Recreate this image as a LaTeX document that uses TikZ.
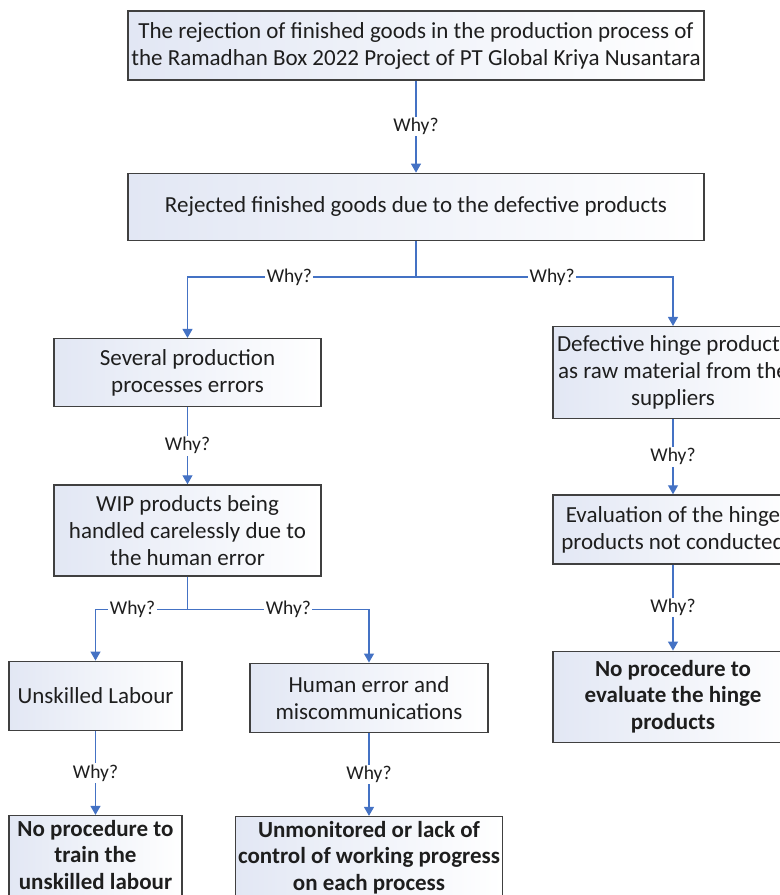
\documentclass[tikz,border=0pt]{standalone}
\usepackage{fontspec}
\setmainfont{Carlito}
\usetikzlibrary{positioning,arrows.meta}

\definecolor{whyblue}{RGB}{68,114,196}
\definecolor{boxline}{RGB}{64,64,64}
\definecolor{boxtint}{RGB}{226,231,244}
\definecolor{inkgray}{RGB}{30,30,30}

\newcommand{\lowpad}{\rule[-14bp]{0pt}{0pt}}

\tikzset{
  cause/.style={draw=boxline, line width=1.3bp, left color=boxtint, right color=white,
    align=center, inner sep=2bp, text=inkgray, font=\fontsize{23bp}{27bp}\selectfont},
  rootcause/.style={cause, font=\bfseries\fontsize{23bp}{26.5bp}\selectfont},
  why/.style={fill=white, inner sep=1.5bp, text=inkgray, font=\fontsize{19.5bp}{21bp}\selectfont},
  whylink/.style={draw=whyblue, line width=1.2bp, -{Triangle[width=10bp,length=9bp]}},
}

\begin{document}
\begin{tikzpicture}[x=1bp, y=1bp]
      \useasboundingbox (0,0) rectangle (780,-895) ;

      \node[cause, minimum width=576bp, minimum height=69bp] (problem) at (416,-45.5)
        {The rejection of finished goods in the production process of\\the Ramadhan Box 2022 Project of PT Global Kriya Nusantara} ;
      \node[cause, minimum width=576bp, minimum height=67bp, below=92bp of problem] (reject)
        {Rejected finished goods due to the defective products} ;

      \node[cause, minimum width=267bp, minimum height=68bp, below=97bp of reject, xshift=-228.5bp] (process)
        {Several production\\processes errors} ;
      \node[cause, minimum width=267bp, minimum height=91bp, below=77bp of process] (wip)
        {WIP products being\\handled carelessly due to\\the human error} ;
      \node[cause, minimum width=173bp, minimum height=69bp, below=84bp of wip, xshift=-92bp] (labour)
        {Unskilled Labour} ;
      \node[cause, minimum width=238bp, minimum height=69bp, below=86bp of wip, xshift=181.5bp] (human)
        {Human error and\\miscommunications} ;
      \node[rootcause, minimum width=173bp, minimum height=92bp, below=84bp of labour] (train)
        {No procedure to\\train the\\unskilled labour\lowpad} ;
      \node[rootcause, minimum width=267bp, minimum height=92bp, below=83bp of human] (monitor)
        {Unmonitored or lack of\\control of working progress\\on each process\lowpad} ;

      \node[cause, minimum width=240bp, minimum height=92bp, below=85bp of reject, xshift=257bp] (hinge)
        {Defective hinge products\\as raw material from the\\suppliers} ;
      \node[cause, minimum width=240bp, minimum height=69bp, below=75bp of hinge] (evaluation)
        {Evaluation of the hinge\\products not conducted} ;
      \node[rootcause, minimum width=240bp, minimum height=91bp, below=86bp of evaluation] (procedure)
        {No procedure to\\evaluate the hinge\\products} ;

      \coordinate[below=36bp of reject.south] (split1) ;
      \coordinate[below=33bp of wip.south] (split2) ;

      \draw[whylink] (problem) -- node[why] {Why?} (reject) ;
      \draw[whylink] (reject.south) -- (split1) -| node[why, pos=0.277] {Why?} (process.north) ;
      \draw[whylink] (reject.south) -- (split1) -| node[why, pos=0.265] {Why?} (hinge.north) ;
      \draw[whylink] (process) -- node[why] {Why?} (wip) ;
      \draw[whylink] (wip.south) -- (split2) -| node[why, pos=0.299] {Why?} (labour.north) ;
      \draw[whylink] (wip.south) -- (split2) -| node[why, pos=0.278] {Why?} (human.north) ;
      \draw[whylink] (labour) -- node[why] {Why?} (train) ;
      \draw[whylink] (human) -- node[why] {Why?} (monitor) ;
      \draw[whylink] (hinge) -- node[why] {Why?} (evaluation) ;
      \draw[whylink] (evaluation) -- node[why] {Why?} (procedure) ;
\end{tikzpicture}
\end{document}
